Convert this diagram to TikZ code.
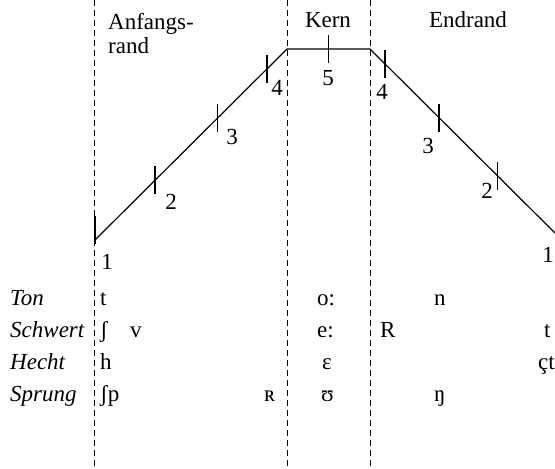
\documentclass[tikz,border=0pt]{standalone}
\usepackage{fontspec}
\setmainfont{Liberation Serif}
\usetikzlibrary{calc}

\begin{document}
\begin{tikzpicture}[
                x=1pt, y=-1pt,
                every node/.style={inner sep=0pt, font=\fontsize{23}{24}\selectfont},
                grenze/.style={line width=0.8pt, dash pattern=on 6pt off 4pt},
                kurve/.style={line width=1.2pt},
                wort/.style={anchor=base west, font=\fontsize{23}{24}\selectfont\itshape},
                laut/.style={anchor=base west}
            ]
            \useasboundingbox (0,0) rectangle (555,469);

            % Grenzen zwischen Anfangsrand, Kern und Endrand
            \foreach \g/\x in {ga/94, gk/287, ge/370} {
                \coordinate (\g o) at (\x,0);
                \coordinate (\g u) at (\x,469);
                \draw[grenze] (\g o) -- (\g u);
            }

            \node[anchor=north west, align=left] (anfang) at (108,13) {Anfangs-\\rand};
            \node[anchor=base] (kern) at (328,27) {Kern};
            \node[anchor=base] (endrand) at (468,27) {Endrand};

            % Sonoritaetskurve
            \coordinate (a) at (95,240);
            \coordinate (b) at (287,49);
            \coordinate (c) at (370,49);
            \coordinate (d) at (555,233);
            \draw[kurve] (a) -- (b) -- (c) -- (d);

            \coordinate (t2) at ($(a)!0.313!(b)$);
            \coordinate (t3) at ($(a)!0.64!(b)$);
            \coordinate (t4) at ($(a)!0.896!(b)$);
            \coordinate (t5) at ($(b)!0.5!(c)$);
            \coordinate (r4) at ($(c)!0.081!(d)$);
            \coordinate (r3) at ($(c)!0.373!(d)$);
            \coordinate (r2) at ($(c)!0.69!(d)$);
            \draw[kurve] ($(a)+(0,-24)$) -- ($(a)+(0,4)$);
            \foreach \p in {t2,t3,t4,t5,r4,r3,r2}
                \draw[kurve] ($(\p)+(0,-14)$) -- ($(\p)+(0,14)$);

            \node (n1) at (107,262) {1};
            \node (n2) at (171,202) {2};
            \node (n3) at (232,137) {3};
            \node (n4) at (277,88) {4};
            \node (n5) at (328,78) {5};
            \node (m4) at (382,92) {4};
            \node (m3) at (428,146) {3};
            \node (m2) at (487,191) {2};
            \node (m1) at (548,255) {1};

            % Beispielwoerter
            \node[wort] (ton) at (10,305) {Ton};
            \node[wort] (schwert) at (10,337) {Schwert};
            \node[wort] (hecht) at (10,369) {Hecht};
            \node[wort] (sprung) at (10,401) {Sprung};

            \node[laut] (ton1) at (100,305) {t};
            \node[laut] (ton2) at (317,305) {o:};
            \node[laut] (ton3) at (434,305) {n};

            \node[laut] (schwert1) at (100,337) {ʃ};
            \node[laut] (schwert2) at (130,337) {v};
            \node[laut] (schwert3) at (317,337) {e:};
            \node[laut] (schwert4) at (380,337) {R};
            \node[laut] (schwert5) at (544,337) {t};

            \node[laut] (hecht1) at (100,369) {h};
            \node[laut] (hecht2) at (322,369) {ɛ};
            \node[laut] (hecht3) at (538,369) {çt};

            \node[laut] (sprung1) at (100,401) {ʃp};
            \node[laut] (sprung2) at (264,401) {ʀ};
            \node[laut] (sprung3) at (321,401) {ʊ};
            \node[laut] (sprung4) at (434,401) {ŋ};

        \end{tikzpicture}
\end{document}
